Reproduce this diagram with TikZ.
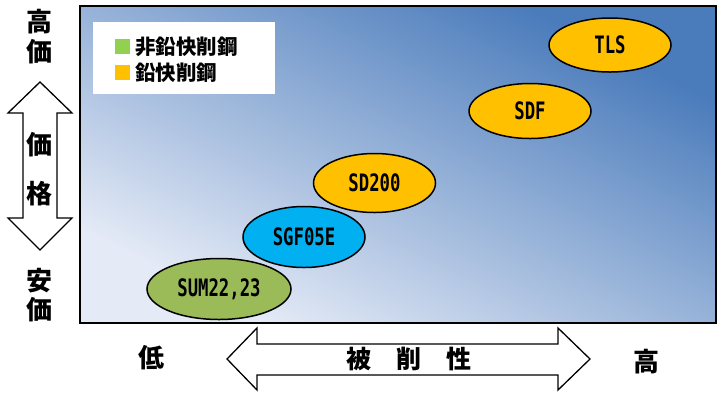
\documentclass[tikz,border=0pt]{standalone}
\usepackage{fontspec}
\usetikzlibrary{shapes.geometric}
\newfontfamily\jp{Noto Sans CJK JP}
\newfontfamily\lab{DejaVu Sans Mono}
\definecolor{bgdark}{HTML}{4A7BBB}
\definecolor{bglight}{HTML}{E4EAF6}
\definecolor{ogold}{HTML}{FFC000}
\definecolor{oblue}{HTML}{00B0F0}
\definecolor{ogreen}{HTML}{9BBB59}
\definecolor{lgreen}{HTML}{92D050}
\tikzset{
  grade/.style={ellipse, draw=black, line width=1.5pt, inner sep=0pt,
    font=\lab\bfseries\fontsize{24}{24}\selectfont},
  bigjp/.style={inner sep=0pt, font=\jp\bfseries\fontsize{26}{26}\selectfont},
  legjp/.style={inner sep=0pt, anchor=west, font=\jp\bfseries\fontsize{20.5}{20.5}\selectfont},
  arrowshape/.style={draw=black, fill=white, line width=1.3pt, line join=miter},
  swatch/.style={inner sep=0pt, minimum width=15pt, minimum height=15pt}
}
\newcommand{\cond}[1]{\scalebox{0.72}[1]{#1}}
\begin{document}
\begin{tikzpicture}[x=1pt,y=-1pt]
\useasboundingbox (0,0) rectangle (720,392);
% background plot area (diagonal gradient, drawn on a square and stretched)
\begin{scope}[transform canvas={xscale=2.00631}]
\shade[top color=bgdark, bottom color=bglight, shading angle=-45] (39.874,6) rectangle (356.874,323);
\end{scope}
\draw[line width=1.6pt] (80,6) rectangle (716,323);
% legend
\fill[white] (93,22) rectangle (275,94);
\node[swatch, fill=lgreen] (sw1) at (122.5,46.5) {};
\node[swatch, fill=ogold] (sw2) at (122.5,72.5) {};
\node[legjp] (l1) at (135,46.5) {非鉛快削鋼};
\node[legjp] (l2) at (135,72.5) {鉛快削鋼};
% vertical arrow
\draw[arrowshape] (40,82) -- (72,113) -- (57,113) -- (57,218) -- (72,218) -- (40,250)
  -- (8,218) -- (23,218) -- (23,113) -- (8,113) -- cycle;
% horizontal arrow
\draw[arrowshape] (227,359) -- (257,328) -- (257,344) -- (558,344) -- (558,328) -- (590,359)
  -- (558,390) -- (558,375) -- (257,375) -- (257,390) -- cycle;
% axis texts
\node[bigjp] (hi1) at (40,22) {高};
\node[bigjp] (hi2) at (40,52) {価};
\node[bigjp] (p1) at (40,145) {価};
\node[bigjp] (p2) at (40,194) {格};
\node[bigjp] (lo1) at (40,281) {安};
\node[bigjp] (lo2) at (40,310) {価};
\node[bigjp] (low) at (151,358) {低};
\node[bigjp] (high) at (646,362) {高};
\node[bigjp, font=\jp\bfseries\fontsize{25}{25}\selectfont] (mach) at (409,359) {被　削　性};
% grades
\node[grade, fill=ogold, minimum width=122pt, minimum height=54pt] (tls) at (610,45) {\cond{TLS}};
\node[grade, fill=ogold, minimum width=122pt, minimum height=55pt] (sdf) at (530,111) {\cond{SDF}};
\node[grade, fill=ogold, minimum width=122pt, minimum height=59pt] (sd200) at (374.5,183) {\cond{SD200}};
\node[grade, fill=oblue, minimum width=122pt, minimum height=61pt] (sgf) at (304,237) {\cond{SGF05E}};
\node[grade, fill=ogreen, minimum width=144pt, minimum height=61pt] (sum) at (219,289) {\cond{SUM22,23}};
\end{tikzpicture}
\end{document}
